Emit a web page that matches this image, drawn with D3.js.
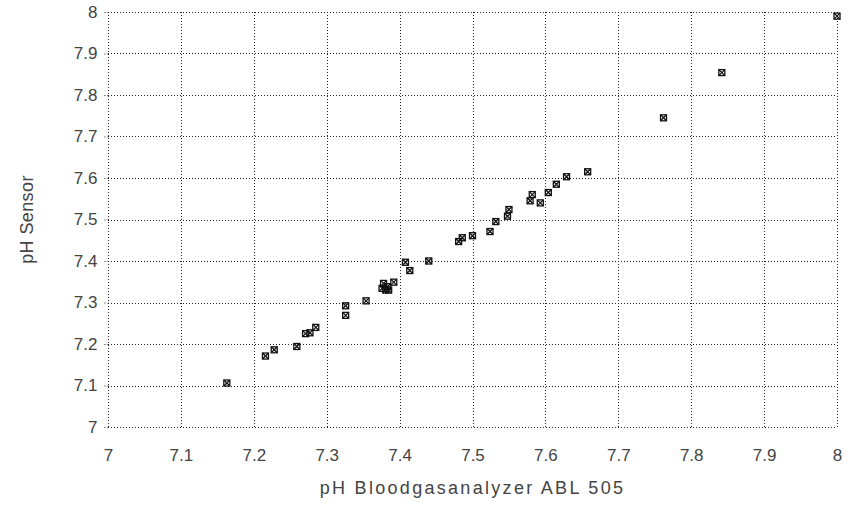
<!DOCTYPE html>
<html>
<head>
<meta charset="utf-8">
<script src="https://cdn.jsdelivr.net/npm/d3@7"></script>
<style>
  html, body { margin: 0; padding: 0; background: #fff; }
  svg { display: block; }
  text { font-family: "Liberation Sans", Arial, sans-serif; fill: #444; }
</style>
</head>
<body>
<div id="chart"></div>
<script>
// Paired pH readings: blood gas analyzer (reference) vs. sensor
const analyzerPH = [7.163, 7.216, 7.228, 7.259, 7.271, 7.277, 7.285, 7.326, 7.326, 7.354,
                    7.378, 7.383, 7.381, 7.392, 7.385, 7.376, 7.408, 7.414, 7.440, 7.481,
                    7.486, 7.500, 7.524, 7.532, 7.548, 7.550, 7.579, 7.582, 7.593, 7.604,
                    7.615, 7.629, 7.658, 7.762, 7.842, 8.000];
const sensorPH   = [7.106, 7.171, 7.186, 7.194, 7.225, 7.227, 7.240, 7.292, 7.269, 7.304,
                    7.346, 7.338, 7.330, 7.349, 7.330, 7.334, 7.397, 7.377, 7.400, 7.447,
                    7.456, 7.461, 7.471, 7.495, 7.508, 7.524, 7.545, 7.560, 7.540, 7.565,
                    7.585, 7.603, 7.615, 7.745, 7.854, 7.990];

const xTicks = [7, 7.1, 7.2, 7.3, 7.4, 7.5, 7.6, 7.7, 7.8, 7.9, 8];
const yTicks = [7, 7.1, 7.2, 7.3, 7.4, 7.5, 7.6, 7.7, 7.8, 7.9, 8];
const xTitle = "pH Bloodgasanalyzer ABL 505";
const yTitle = "pH Sensor";

const W = 851, H = 524;
const m = { left: 108, right: 14, top: 12, bottom: 97 };

const svg = d3.select("#chart").append("svg")
  .attr("width", W).attr("height", H);

const x = d3.scaleLinear().domain([7, 8]).range([m.left, W - m.right]);
const y = d3.scaleLinear().domain([7, 8]).range([H - m.bottom, m.top]);

const fmt = d => (d === 7 || d === 8) ? String(d) : d.toFixed(1);
const dotted = "1,2";

// Grid (dotted, including the plot frame)
const grid = svg.append("g").attr("stroke", "#222").attr("stroke-width", 1)
  .attr("stroke-dasharray", dotted).attr("fill", "none");
grid.selectAll("line.v").data(xTicks).join("line")
  .attr("class", "v")
  .attr("x1", d => Math.round(x(d)) + 0.5).attr("x2", d => Math.round(x(d)) + 0.5)
  .attr("y1", y(8)).attr("y2", y(7));
grid.selectAll("line.h").data(yTicks).join("line")
  .attr("class", "h")
  .attr("y1", d => Math.round(y(d)) + 0.5).attr("y2", d => Math.round(y(d)) + 0.5)
  .attr("x1", x(7)).attr("x2", x(8));

// Axes
const yAxis = d3.axisLeft(y).tickValues(yTicks).tickFormat(fmt).tickSize(4).tickPadding(7);
const gy = svg.append("g").attr("transform", `translate(${m.left + 0.5},0)`).call(yAxis);
gy.select(".domain").remove();
gy.selectAll(".tick line").attr("stroke", "#222").attr("stroke-dasharray", dotted);
gy.selectAll(".tick text").attr("font-size", 17)
  .style("font-family", "'Liberation Sans', Arial, sans-serif").attr("fill", "#444");

const xAxis = d3.axisBottom(x).tickValues(xTicks).tickFormat(fmt).tickSize(0).tickPadding(22);
const gx = svg.append("g").attr("transform", `translate(0,${H - m.bottom})`).call(xAxis);
gx.select(".domain").remove();
gx.selectAll(".tick text").attr("font-size", 17)
  .style("font-family", "'Liberation Sans', Arial, sans-serif").attr("fill", "#444");

// Axis titles
svg.append("text")
  .attr("x", (x(7) + x(8)) / 2).attr("y", 494)
  .attr("text-anchor", "middle").attr("font-size", 18)
  .style("letter-spacing", "2.3px")
  .text(xTitle);

svg.append("text")
  .attr("transform", `translate(33,${(y(7) + y(8)) / 2}) rotate(-90)`)
  .attr("text-anchor", "middle").attr("font-size", 18)
  .style("letter-spacing", "0.4px")
  .text(yTitle);

// Data markers: small boxed crosses
const pts = analyzerPH.map((v, i) => ({ a: v, s: sensorPH[i] }));
const mk = svg.append("g").attr("stroke", "#111").attr("fill", "none").attr("stroke-width", 1.3);
const g = mk.selectAll("g").data(pts).join("g")
  .attr("transform", d => `translate(${x(d.a)},${y(d.s)})`);
g.append("rect").attr("x", -3).attr("y", -3).attr("width", 6).attr("height", 6);
g.append("path").attr("d", "M-3,-3L3,3M3,-3L-3,3");
</script>
</body>
</html>
